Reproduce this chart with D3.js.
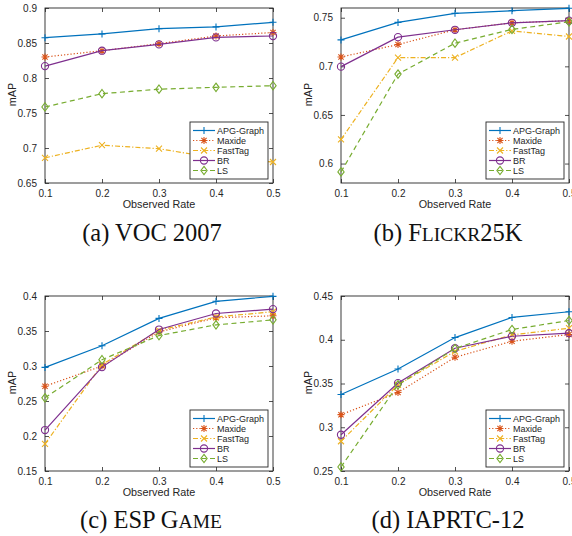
<!DOCTYPE html>
<html>
<head>
<meta charset="utf-8">
<script src="https://cdn.jsdelivr.net/npm/d3@7"></script>
<style>
  body { margin: 0; background: #fff; }
  svg { display: block; }
</style>
</head>
<body>
<div id="chart"></div>
<script>
// observed rates on the x axis, and the methods in plotting order
const rates = [0.1, 0.2, 0.3, 0.4, 0.5];
const methods = ["APG-Graph", "Maxide", "FastTag", "BR", "LS"];

// mAP values, one row per method (same order as methods)
const vocValues = [
  [0.8576, 0.8630, 0.8705, 0.8730, 0.8796],
  [0.8300, 0.8390, 0.8490, 0.8600, 0.8650],
  [0.6860, 0.7040, 0.6990, 0.6855, 0.6800],
  [0.8170, 0.8390, 0.8480, 0.8580, 0.8600],
  [0.7586, 0.7776, 0.7840, 0.7867, 0.7890]
];
const flickrValues = [
  [0.7272, 0.7452, 0.7545, 0.7572, 0.7597],
  [0.7096, 0.7224, 0.7376, 0.7448, 0.7469],
  [0.6248, 0.7090, 0.7090, 0.7365, 0.7307],
  [0.6997, 0.7300, 0.7376, 0.7448, 0.7470],
  [0.5914, 0.6920, 0.7238, 0.7380, 0.7458]
];
const espValues = [
  [0.2980, 0.3290, 0.3680, 0.3924, 0.3995],
  [0.2711, 0.3000, 0.3487, 0.3689, 0.3717],
  [0.1888, 0.3020, 0.3510, 0.3700, 0.3775],
  [0.2085, 0.2984, 0.3521, 0.3750, 0.3813],
  [0.2545, 0.3090, 0.3435, 0.3588, 0.3660]
];
const iaprValues = [
  [0.3374, 0.3665, 0.4025, 0.4255, 0.4320],
  [0.3144, 0.3397, 0.3800, 0.3983, 0.4060],
  [0.2840, 0.3485, 0.3868, 0.4056, 0.4132],
  [0.2914, 0.3505, 0.3903, 0.4040, 0.4075],
  [0.2546, 0.3485, 0.3900, 0.4117, 0.4220]
];

// y axis ticks of each panel
const vocTicks = [0.65, 0.7, 0.75, 0.8, 0.85, 0.9];
const flickrTicks = [0.6, 0.65, 0.7, 0.75];
const espTicks = [0.15, 0.2, 0.25, 0.3, 0.35, 0.4];
const iaprTicks = [0.25, 0.3, 0.35, 0.4, 0.45];

// captions: pieces of text, second value true = set in small capitals
const vocCaption = [["(a) VOC 2007", false]];
const flickrCaption = [["(b) F", false], ["LICKR", true], ["25K", false]];
const espCaption = [["(c) ESP G", false], ["AME", true]];
const iaprCaption = [["(d) IAPRTC-12", false]];

const panels = [
  { values: vocValues, ticks: vocTicks, domain: [0.65, 0.9], left: 45, top: 8,
    caption: vocCaption, cx: 152, cy: 241 },
  { values: flickrValues, ticks: flickrTicks, domain: [0.58, 0.76], left: 341, top: 8,
    caption: flickrCaption, cx: 448, cy: 241 },
  { values: espValues, ticks: espTicks, domain: [0.15, 0.4], left: 45, top: 296,
    caption: espCaption, cx: 151, cy: 528 },
  { values: iaprValues, ticks: iaprTicks, domain: [0.25, 0.45], left: 341, top: 296,
    caption: iaprCaption, cx: 448, cy: 528 }
];

const styles = [
  { color: "#0072BD", dash: null, marker: "plus" },
  { color: "#D95319", dash: "1.2,2", marker: "star" },
  { color: "#EDB120", dash: "5,2,1.2,2", marker: "cross" },
  { color: "#7E2F8E", dash: null, marker: "circle" },
  { color: "#77AC30", dash: "5,3.5", marker: "diamond" }
];

const W = 572, H = 536;
const pw = 228, ph = 175;
const ink = "#262626";
const sans = "'Liberation Sans', Arial, Helvetica, sans-serif";
const serif = "'Liberation Serif', 'Times New Roman', serif";

const svg = d3.select("#chart").append("svg")
  .attr("width", W)
  .attr("height", H);

function drawMarker(g, type, x, y, color) {
  const s = 3.5;
  if (type === "plus") {
    g.append("path").attr("d", `M${x - s},${y}H${x + s}M${x},${y - s}V${y + s}`)
      .attr("stroke", color).attr("stroke-width", 1.1).attr("fill", "none");
  } else if (type === "star") {
    const d = s * 0.75;
    g.append("path")
      .attr("d", `M${x - s},${y}H${x + s}M${x},${y - s}V${y + s}M${x - d},${y - d}L${x + d},${y + d}M${x - d},${y + d}L${x + d},${y - d}`)
      .attr("stroke", color).attr("stroke-width", 1.1).attr("fill", "none");
  } else if (type === "cross") {
    const d = 3;
    g.append("path")
      .attr("d", `M${x - d},${y - d}L${x + d},${y + d}M${x - d},${y + d}L${x + d},${y - d}`)
      .attr("stroke", color).attr("stroke-width", 1.1).attr("fill", "none");
  } else if (type === "circle") {
    g.append("circle").attr("cx", x).attr("cy", y).attr("r", 3.6)
      .attr("stroke", color).attr("stroke-width", 1.1).attr("fill", "none");
  } else if (type === "diamond") {
    const d = 4.2;
    g.append("path")
      .attr("d", `M${x},${y - d}L${x + d * 0.75},${y}L${x},${y + d}L${x - d * 0.75},${y}Z`)
      .attr("stroke", color).attr("stroke-width", 1.1).attr("fill", "none");
  }
}

panels.forEach(p => {
  const g = svg.append("g").attr("transform", `translate(${p.left},${p.top})`);

  const x = d3.scaleLinear().domain([0.1, 0.5]).range([0, pw]);
  const y = d3.scaleLinear().domain(p.domain).range([ph, 0]);

  // axes with inward ticks on all four sides
  const fmt = v => String(+v.toFixed(2));
  const styleAxis = sel => {
    sel.select(".domain").remove();
    sel.selectAll(".tick line").attr("stroke", ink).attr("stroke-width", 0.8);
    sel.selectAll(".tick text").attr("fill", ink)
      .style("font-family", sans).style("font-size", "10px");
  };

  g.append("g").attr("transform", `translate(0,${ph})`)
    .call(d3.axisBottom(x).tickValues(rates).tickFormat(fmt).tickSizeInner(-4).tickPadding(7))
    .call(styleAxis);
  g.append("g")
    .call(d3.axisTop(x).tickValues(rates).tickFormat("").tickSizeInner(-4))
    .call(styleAxis);
  g.append("g")
    .call(d3.axisLeft(y).tickValues(p.ticks).tickFormat(fmt).tickSizeInner(-4).tickPadding(8))
    .call(styleAxis);
  g.append("g").attr("transform", `translate(${pw},0)`)
    .call(d3.axisRight(y).tickValues(p.ticks).tickFormat("").tickSizeInner(-4))
    .call(styleAxis);

  g.append("rect")
    .attr("width", pw).attr("height", ph)
    .attr("fill", "none").attr("stroke", ink).attr("stroke-width", 0.9);

  // series
  const line = d3.line().x((d, i) => x(rates[i])).y(d => y(d));
  p.values.forEach((vals, k) => {
    const st = styles[k];
    g.append("path")
      .attr("d", line(vals))
      .attr("fill", "none")
      .attr("stroke", st.color)
      .attr("stroke-width", 1.2)
      .attr("stroke-dasharray", st.dash);
    vals.forEach((v, i) => drawMarker(g, st.marker, x(rates[i]), y(v), st.color));
  });

  // axis titles
  g.append("text")
    .attr("x", pw / 2).attr("y", ph + 25)
    .attr("text-anchor", "middle")
    .attr("fill", ink)
    .style("font-family", sans).style("font-size", "10.8px")
    .text("Observed Rate");
  g.append("text")
    .attr("transform", `translate(-29,${ph / 2 - 1}) rotate(-90)`)
    .attr("text-anchor", "middle")
    .attr("fill", ink)
    .style("font-family", sans).style("font-size", "10.8px")
    .text("mAP");

  // legend
  const lw = 78, lh = 57;
  const lg = g.append("g").attr("transform", `translate(${pw - 5 - lw},${ph - 4 - lh})`);
  lg.append("rect")
    .attr("width", lw).attr("height", lh)
    .attr("fill", "#fff").attr("stroke", ink).attr("stroke-width", 0.9);
  methods.forEach((m, k) => {
    const st = styles[k];
    const ry = 8.5 + k * 10;
    lg.append("line")
      .attr("x1", 3).attr("x2", 25).attr("y1", ry).attr("y2", ry)
      .attr("stroke", st.color).attr("stroke-width", 1.2)
      .attr("stroke-dasharray", st.dash);
    drawMarker(lg, st.marker, 14, ry, st.color);
    lg.append("text")
      .attr("x", 27).attr("y", ry).attr("dy", "0.35em")
      .attr("fill", ink)
      .style("font-family", sans).style("font-size", "9px")
      .text(m);
  });

  // caption
  const cap = svg.append("text")
    .attr("x", p.cx).attr("y", p.cy)
    .attr("text-anchor", "middle")
    .attr("fill", "#111")
    .style("font-family", serif).style("font-size", "24.5px");
  p.caption.forEach(([t, small]) => {
    cap.append("tspan")
      .style("font-size", small ? "19.5px" : null)
      .text(small ? t.toUpperCase() : t);
  });
});
</script>
</body>
</html>
